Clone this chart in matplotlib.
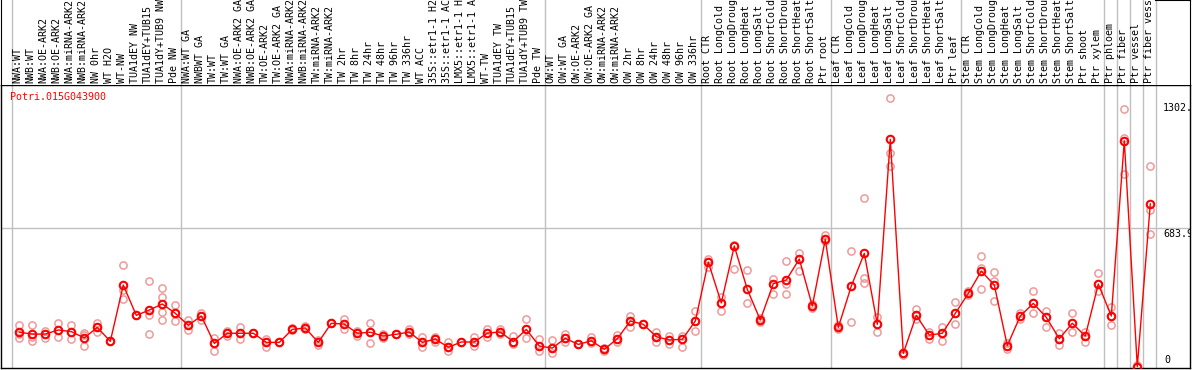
import numpy as np
import matplotlib
matplotlib.use('Agg')
import matplotlib.pyplot as plt

# Etiquetas de las muestras (una por columna)
labels_nw = ['NWA:WT', 'NWB:WT', 'NWA:OE-ARK2', 'NWB:OE-ARK2', 'NWA:miRNA-ARK2',
             'NWB:miRNA-ARK2', 'NW 0hr', 'WT H2O', 'WT-NW', 'TUA1dEY NW',
             'TUA1dEY+TUB15', 'TUA1dY+TUB9 NW', 'Pde NW']
labels_tw = ['NWA:WT GA', 'NWBWT GA', 'TW:WT', 'TW:WT GA', 'NWA:OE-ARK2 GA',
             'NWB:OE-ARK2 GA', 'TW:OE-ARK2', 'TW:OE-ARK2 GA', 'NWA:miRNA-ARK2 GA',
             'NWB:miRNA-ARK2 GA', 'TW:miRNA-ARK2', 'TW:miRNA-ARK2', 'TW 2hr', 'TW 8hr',
             'TW 24hr', 'TW 48hr', 'TW 96hr', 'TW 336hr', 'WT ACC', '35S::etr1-1 H2O',
             '35S::etr1-1 ACC', 'LMX5::etr1-1 H2O', 'LMX5::etr1-1 ACC', 'WT-TW',
             'TUA1dEY TW', 'TUA1dEY+TUB15', 'TUA1dY+TUB9 TW', 'Pde TW']
labels_ow = ['OW:WT', 'OW:WT GA', 'OW:OE-ARK2', 'OW:OE-ARK2 GA', 'OW:miRNA-ARK2',
             'OW:miRNA-ARK2', 'OW 2hr', 'OW 8hr', 'OW 24hr', 'OW 48hr', 'OW 96hr', 'OW 336hr']
labels_root = ['Root CTR', 'Root LongCold', 'Root LongDrought', 'Root LongHeat',
               'Root LongSalt', 'Root ShortCold', 'Root ShortDrought', 'Root ShortHeat',
               'Root ShortSalt', 'Ptr root']
labels_leaf = ['Leaf CTR', 'Leaf LongCold', 'Leaf LongDrought', 'Leaf LongHeat',
               'Leaf LongSalt', 'Leaf ShortCold', 'Leaf ShortDrought', 'Leaf ShortHeat',
               'Leaf ShortSalt', 'Ptr leaf']
labels_stem = ['Stem CTR', 'Stem LongCold', 'Stem LongDrought', 'Stem LongHeat',
               'Stem LongSalt', 'Stem ShortCold', 'Stem ShortDrought', 'Stem ShortHeat',
               'Stem ShortSalt', 'Ptr shoot', 'Ptr xylem']
labels_cell = ['Ptr phloem', 'Ptr fiber', 'Ptr vessel', 'Ptr fiber vessel']

# Valores medios por columna
mean_nw = [171, 162, 162, 182, 174, 143, 195, 126, 403, 254, 280, 310, 264]
mean_tw = [205, 251, 116, 166, 166, 166, 121, 121, 185, 192, 121, 215, 211, 166,
           171, 152, 161, 172, 121, 138, 97, 123, 123, 167, 172, 125, 185, 103]
mean_ow = [93, 141, 111, 129, 87, 139, 226, 210, 149, 133, 136, 226]
mean_root = [516, 315, 595, 382, 231, 410, 428, 531, 300, 628]
mean_leaf = [195, 398, 559, 210, 1120, 67, 254, 157, 166, 264]
mean_stem = [362, 472, 403, 105, 251, 313, 244, 139, 215, 152, 408]
mean_cell = [251, 1113, 2, 802]

# Réplicas por columna
reps_nw = [[207, 162, 144], [207, 150, 129], [179, 162, 144], [216, 182, 148],
           [207, 174, 138], [169, 155, 105], [216, 195, 174], [126, 126, 126],
           [502, 379, 333], [254, 254, 254], [423, 254, 161], [387, 343, 310, 272, 231],
           [305, 264, 226]]
reps_tw = [[231, 205, 182], [267, 251, 231], [141, 116, 80], [179, 166, 152],
           [195, 166, 136], [166, 166, 166], [136, 121, 100], [121, 121, 121],
           [190, 185, 180], [200, 192, 185], [133, 121, 110], [215, 215, 215],
           [234, 211, 185], [179, 166, 152], [216, 171, 118], [161, 152, 145],
           [161, 161, 161], [185, 172, 160], [149, 121, 97], [149, 138, 121],
           [121, 97, 79], [123, 123, 123], [146, 123, 105], [185, 167, 150],
           [185, 172, 160], [152, 125, 111], [236, 185, 143], [138, 103, 79]]
reps_ow = [[133, 93, 67], [162, 141, 125], [111, 111, 111], [146, 129, 118],
           [95, 87, 80], [157, 139, 125], [252, 226, 195], [210, 210, 210],
           [171, 149, 121], [154, 133, 111], [152, 136, 100], [275, 226, 177]]
reps_root = [[530, 516, 493], [346, 315, 275], [600, 595, 480], [477, 382, 313],
             [240, 231, 222], [433, 410, 358], [521, 407, 357], [559, 531, 474],
             [310, 300, 290], [649, 628, 620]]
reps_leaf = [[205, 195, 185], [571, 398, 220], [831, 438, 415], [248, 210, 170],
             [1321, 1051, 990], [67, 57, 67], [284, 254, 235], [171, 157, 136],
             [198, 166, 128], [318, 264, 211]]
reps_stem = [[372, 362, 352], [546, 485, 382], [466, 423, 325], [116, 87, 105],
             [264, 251, 235], [374, 313, 267], [275, 244, 195], [166, 139, 108],
             [267, 215, 172], [171, 152, 121], [461, 408, 375]]
reps_cell = [[297, 251, 207], [1267, 1125, 948], [10, 2, 0], [989, 772, 653]]

gene_id = 'Potri.015G043900'
y_ticks = [1302.0, 683.9, 0]
y_tick_text = ['1302.', '683.9', '0']

# Armar las listas completas
groups = [labels_nw, labels_tw, labels_ow, labels_root, labels_leaf, labels_stem]
labels = sum(groups, []) + labels_cell
means = mean_nw + mean_tw + mean_ow + mean_root + mean_leaf + mean_stem + mean_cell
reps = reps_nw + reps_tw + reps_ow + reps_root + reps_leaf + reps_stem + reps_cell
x = np.arange(len(labels))

# Límites de grupo (líneas grises verticales)
bounds = [-1]
for g in groups:
    bounds.append(bounds[-1] + len(g))
bounds += [bounds[-1] + k for k in range(1, len(labels_cell) + 1)]

font = 'DejaVu Sans Mono'
fs = 7.2
W, H = 1194, 370
fig = plt.figure(figsize=(W / 100, H / 100), dpi=100)

px_left, px_right, px_head, px_bottom = 1, 1190, 85, 368
x0 = (px_left - 19.3) / 13
x1 = (px_right - 19.3) / 13
scale = 0.2033  # pixeles por unidad

ax = fig.add_axes([px_left / W, 1 - px_bottom / H, (px_right - px_left) / W,
                   (px_bottom - px_head) / H])
ax.set_xlim(x0, x1)
ax.set_ylim((367 - px_bottom) / scale, (367 - px_head) / scale)
ax.set_xticks([])
ax.set_yticks([])
for s in ax.spines.values():
    s.set_color('black')
    s.set_linewidth(1)

hx = fig.add_axes([px_left / W, 1 - px_head / H, (px_right - px_left) / W, px_head / H])
hx.set_xlim(x0, x1)
hx.set_ylim(0, px_head)
hx.set_xticks([])
hx.set_yticks([])
hx.spines['top'].set_visible(False)
hx.spines['bottom'].set_visible(False)
for s in ['left', 'right']:
    hx.spines[s].set_color('black')
hx.plot([87.45, x1], [px_head, px_head], color='black', lw=1.5, clip_on=False)

for b in bounds:
    ax.axvline(b + 0.4, color='#c0c0c0', lw=1, zorder=0)
    hx.axvline(b + 0.4, color='#c0c0c0', lw=1, zorder=0)
ax.axhline(683.9, color='#c0c0c0', lw=1, zorder=0)

# Etiquetas verticales
for i, lab in enumerate(labels):
    hx.text(i - 0.12, 2, lab, rotation=90, ha='center', va='bottom',
            fontsize=fs, family=font, color='black', clip_on=True)

# Réplicas
for i, r in enumerate(reps):
    ax.plot([i] * len(r), r, 'o', mfc='none', mec='#ee9a9a', ms=5.2, mew=1.1, zorder=2)

# Medias
ax.plot(x, means, '-', color='red', lw=1, zorder=3)
ax.plot(x, means, 'o', mfc='none', mec='red', ms=5.4, mew=1.5, zorder=4)

ax.text((10 - px_left) / (px_right - px_left), (px_bottom - 97) / (px_bottom - px_head),
        gene_id, transform=ax.transAxes, color='red', fontsize=fs, family=font,
        ha='left', va='center')

tx = (1163 - 19.3) / 13
for v, t in zip(y_ticks, y_tick_text):
    if v == 0:
        ax.text(tx + 0.1, v + 10, t, fontsize=fs, family=font, ha='left',
                va='bottom', clip_on=True)
    else:
        ax.text(tx, v - 4, t, fontsize=fs, family=font, ha='left', va='top', clip_on=True)

fig.savefig('out.png', dpi=100)
